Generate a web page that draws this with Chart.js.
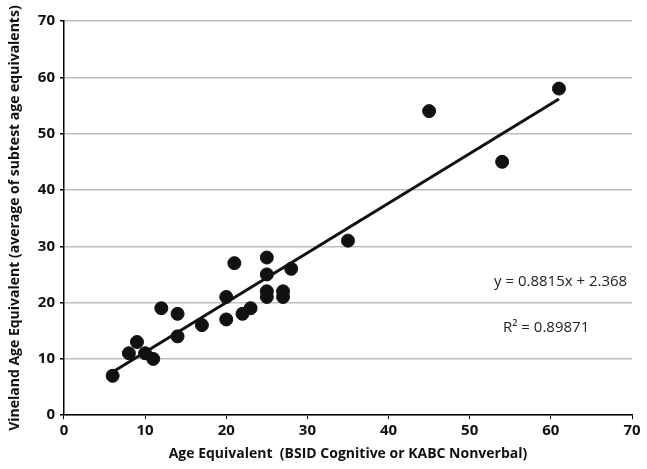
<!DOCTYPE html>
<html>
<head>
<meta charset="utf-8">
<script src="https://cdn.jsdelivr.net/npm/chart.js@4.4.0/dist/chart.umd.min.js"></script>
<style>
  html, body { margin: 0; padding: 0; background: #fff; }
  #wrap { width: 647px; height: 469px; }
</style>
</head>
<body>
<div id="wrap"><canvas id="myChart"></canvas></div>
<script>
// data
var ageX = [6, 8, 9, 10, 11, 12, 14, 14, 17, 20, 20, 21, 22, 23, 25, 25, 25, 25, 27, 27, 28, 35, 45, 54, 61];
var vinelandY = [7, 11, 13, 11, 10, 19, 18, 14, 16, 21, 17, 27, 18, 19, 28, 25, 22, 21, 22, 21, 26, 31, 54, 45, 58];
var trendSlope = [0.8815];
var trendIntercept = [2.368];
var rSquared = ['0.89871'];
var axisTicks = [0, 10, 20, 30, 40, 50, 60, 70];

var points = ageX.map(function(x, i) { return {x: x, y: vinelandY[i]}; });
var xmin = Math.min.apply(null, ageX);
var xmax = Math.max.apply(null, ageX);
var trend = [xmin, xmax].map(function(x) {
    return {x: x, y: trendSlope[0] * x + trendIntercept[0]};
});

var fontFam = '"Open Sans", Lato, sans-serif';

var labelPlugin = {
    id: 'eqLabels',
    afterDraw: function(chart) {
        var c = chart.ctx;
        c.save();
        c.fillStyle = '#222';
        c.font = '15px ' + fontFam;
        c.textBaseline = 'middle';
        c.fillText('y = ' + trendSlope[0] + 'x + ' + trendIntercept[0], 494, 282);
        c.fillText('R\u00B2 = ' + rSquared[0], 503, 328);
        c.restore();
    }
};

var ctx = document.getElementById('myChart').getContext('2d');
var myChart = new Chart(ctx, {
    type: 'scatter',
    data: {
        datasets: [{
            data: points,
            backgroundColor: '#111',
            borderColor: '#111',
            pointRadius: 6.5,
            pointHoverRadius: 6.5
        }, {
            type: 'line',
            data: trend,
            borderColor: '#111',
            borderWidth: 3,
            pointRadius: 0,
            fill: false
        }]
    },
    options: {
        responsive: true,
        maintainAspectRatio: false,
        animation: false,
        layout: { padding: { top: 21, right: 15, left: 7, bottom: 5 } },
        plugins: { legend: { display: false }, tooltip: { enabled: false } },
        scales: {
            x: {
                type: 'linear',
                min: 0,
                max: 70,
                afterBuildTicks: function(s) { s.ticks = axisTicks.map(function(v) { return {value: v}; }); },
                grid: { drawOnChartArea: false, tickColor: '#000', tickLength: 4 },
                border: { color: '#000', width: 1.5 },
                ticks: { color: '#111', font: { family: fontFam, size: 15, weight: 'bold' }, padding: 3, maxRotation: 0 },
                title: {
                    display: true,
                    text: 'Age Equivalent  (BSID Cognitive or KABC Nonverbal)',
                    color: '#111',
                    font: { family: fontFam, size: 14, weight: 'bold' },
                    padding: { top: 2, bottom: 2 }
                }
            },
            y: {
                min: 0,
                max: 70,
                afterBuildTicks: function(s) { s.ticks = axisTicks.map(function(v) { return {value: v}; }); },
                grid: { color: '#bdbdbd', lineWidth: 1.5, tickColor: '#000', tickLength: 4 },
                border: { color: '#000', width: 1.5 },
                ticks: { color: '#111', font: { family: fontFam, size: 15, weight: 'bold' }, padding: 5 },
                title: {
                    display: true,
                    text: 'Vineland Age Equivalent (average of subtest age equivalents)',
                    color: '#111',
                    font: { family: fontFam, size: 14, weight: 'bold' },
                    padding: { top: 0, bottom: 9 }
                }
            }
        }
    },
    plugins: [labelPlugin]
});
</script>
</body>
</html>
